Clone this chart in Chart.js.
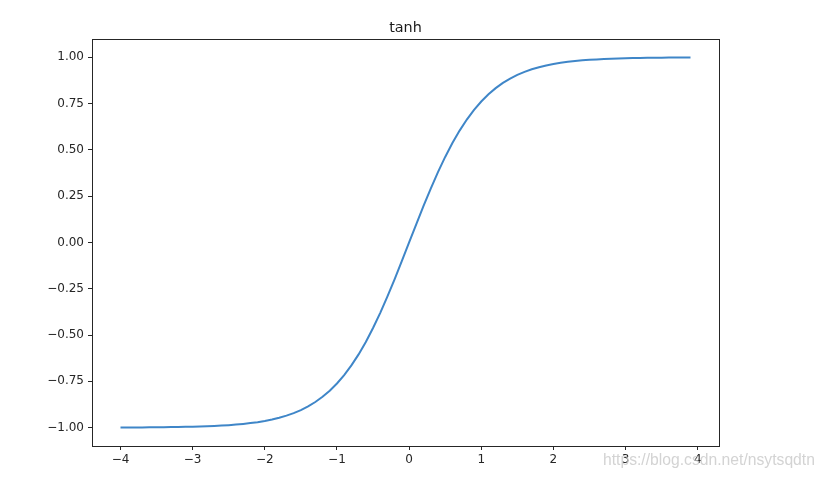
<!DOCTYPE html>
<html>
<head>
<meta charset="utf-8">
<script src="https://cdn.jsdelivr.net/npm/chart.js@4"></script>
<style>
html,body{margin:0;padding:0;background:#fff;}
#wrap{width:825px;height:479px;position:relative;}
</style>
</head>
<body>
<div id="wrap"><canvas id="c" width="825" height="479"></canvas></div>
<script>
// x values (arange(-4, 4, 0.1))
const xValues = [
 -4.0,-3.9,-3.8,-3.7,-3.6,-3.5,-3.4,-3.3,-3.2,-3.1,
 -3.0,-2.9,-2.8,-2.7,-2.6,-2.5,-2.4,-2.3,-2.2,-2.1,
 -2.0,-1.9,-1.8,-1.7,-1.6,-1.5,-1.4,-1.3,-1.2,-1.1,
 -1.0,-0.9,-0.8,-0.7,-0.6,-0.5,-0.4,-0.3,-0.2,-0.1,
  0.0, 0.1, 0.2, 0.3, 0.4, 0.5, 0.6, 0.7, 0.8, 0.9,
  1.0, 1.1, 1.2, 1.3, 1.4, 1.5, 1.6, 1.7, 1.8, 1.9,
  2.0, 2.1, 2.2, 2.3, 2.4, 2.5, 2.6, 2.7, 2.8, 2.9,
  3.0, 3.1, 3.2, 3.3, 3.4, 3.5, 3.6, 3.7, 3.8, 3.9
];
// tanh values
const tanhValues = [
 -0.9993,-0.9992,-0.9990,-0.9988,-0.9985,-0.9982,-0.9978,-0.9973,-0.9967,-0.9959,
 -0.9951,-0.9940,-0.9926,-0.9910,-0.9890,-0.9866,-0.9837,-0.9801,-0.9757,-0.9705,
 -0.9640,-0.9562,-0.9468,-0.9354,-0.9217,-0.9051,-0.8854,-0.8617,-0.8337,-0.8005,
 -0.7616,-0.7163,-0.6640,-0.6044,-0.5370,-0.4621,-0.3799,-0.2913,-0.1974,-0.0997,
  0.0000, 0.0997, 0.1974, 0.2913, 0.3799, 0.4621, 0.5370, 0.6044, 0.6640, 0.7163,
  0.7616, 0.8005, 0.8337, 0.8617, 0.8854, 0.9051, 0.9217, 0.9354, 0.9468, 0.9562,
  0.9640, 0.9705, 0.9757, 0.9801, 0.9837, 0.9866, 0.9890, 0.9910, 0.9926, 0.9940,
  0.9951, 0.9959, 0.9967, 0.9973, 0.9978, 0.9982, 0.9985, 0.9988, 0.9990, 0.9992
];
const xTicks = [-4,-3,-2,-1,0,1,2,3,4];
const yTicks = [-1.00,-0.75,-0.50,-0.25,0.00,0.25,0.50,0.75,1.00];
const titleText = 'tanh';
const watermarkText = 'https://blog.csdn.net/nsytsqdtn';

const fmtMinus = s => s.replace('-', '\u2212');
const points = xValues.map((x,i)=>({x:x, y:tanhValues[i]}));

const framePlugin = {
  id:'frame',
  afterDatasetsDraw(chart){
    const {ctx, chartArea:a} = chart;
    ctx.save();
    ctx.strokeStyle = '#262626';
    ctx.lineWidth = 1;
    ctx.strokeRect(Math.round(a.left)+0.5, Math.round(a.top)+0.5, Math.round(a.right-a.left), Math.round(a.bottom-a.top));
    ctx.restore();
  },
  afterDraw(chart){
    const {ctx, chartArea:a} = chart;
    ctx.save();
    // title centred over the axes
    ctx.font = '14.4px "DejaVu Sans"';
    ctx.fillStyle = '#1a1a1a';
    ctx.textAlign = 'center';
    ctx.textBaseline = 'alphabetic';
    ctx.fillText(titleText, (a.left + a.right) / 2, 32);
    // watermark
    ctx.font = '15.7px "Liberation Sans", Arial, sans-serif';
    ctx.fillStyle = 'rgba(200,200,200,0.8)';
    ctx.textBaseline = 'middle';
    ctx.textAlign = 'left';
    ctx.fillText(watermarkText, 603, 461);
    ctx.restore();
  }
};

new Chart(document.getElementById('c'), {
  type:'line',
  data:{datasets:[{
    data: points,
    borderColor:'#3f86c8',
    borderWidth:2,
    pointRadius:0,
    tension:0,
    fill:false
  }]},
  plugins:[framePlugin],
  options:{
    responsive:false,
    animation:false,
    layout:{padding:{left:0, right:106, top:39, bottom:0}},
    plugins:{
      legend:{display:false},
      tooltip:{enabled:false},
      title:{display:false}
    },
    scales:{
      x:{
        type:'linear', min:-4.395, max:4.295,
        afterBuildTicks(s){ s.ticks = xTicks.map(v=>({value:v})); },
        afterFit(s){ s.height = 33; },
        grid:{drawOnChartArea:false, drawTicks:true, tickLength:4, color:'#262626', tickWidth:1},
        border:{display:true, color:'#262626', width:1},
        ticks:{
          color:'#262626', padding:3, maxRotation:0,
          font:{family:'"DejaVu Sans"', size:12},
          callback:v=>fmtMinus(String(v))
        }
      },
      y:{
        type:'linear', min:-1.0993, max:1.0991,
        afterBuildTicks(s){ s.ticks = yTicks.map(v=>({value:v})); },
        afterFit(s){ s.width = 92; },
        grid:{drawOnChartArea:false, drawTicks:true, tickLength:4, color:'#262626', tickWidth:1},
        border:{display:true, color:'#262626', width:1},
        ticks:{
          color:'#262626', padding:4,
          font:{family:'"DejaVu Sans"', size:12},
          callback:v=>fmtMinus(Number(v).toFixed(2))
        }
      }
    }
  }
});
</script>
</body>
</html>
